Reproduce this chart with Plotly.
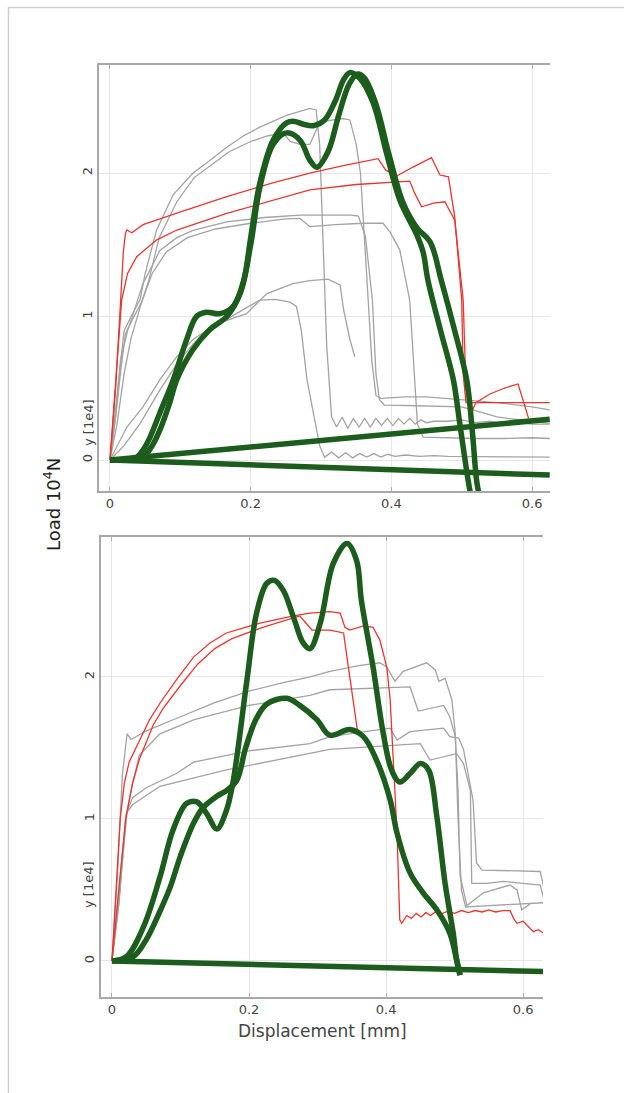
import plotly.graph_objects as go

# ---------------- TOP PANEL DATA (load in 1e4 N, displacement in mm) ----------------
top_red_a_x = [0, 0.008, 0.015, 0.019, 0.022, 0.024, 0.031, 0.047, 0.095, 0.166, 0.23, 0.284, 0.33, 0.381,
               0.392, 0.4075, 0.43, 0.457, 0.469, 0.481, 0.49, 0.4999, 0.502, 0.506, 0.55, 0.6, 0.625]
top_red_a_y = [0, 0.5, 1.1, 1.45, 1.58, 1.603, 1.584, 1.64, 1.72, 1.835, 1.93, 2.0, 2.05, 2.10,
               2.02, 1.979, 2.04, 2.107, 1.986, 1.974, 1.695, 1.115, 0.6, 0.40, 0.40, 0.40, 0.40]

top_red_b_x = [0, 0.005, 0.01, 0.0166, 0.025, 0.038, 0.066, 0.095, 0.166, 0.284, 0.35, 0.426, 0.433, 0.443,
               0.46, 0.476, 0.49, 0.502, 0.506, 0.512, 0.52, 0.54, 0.56, 0.58, 0.595]
top_red_b_y = [0, 0.35, 0.7, 1.115, 1.3, 1.417, 1.533, 1.603, 1.719, 1.882, 1.92, 1.944, 1.86, 1.765,
               1.79, 1.80, 1.672, 1.115, 0.5, 0.314, 0.40, 0.46, 0.50, 0.53, 0.29]

top_gray1_x = [0, 0.008, 0.015, 0.02, 0.03, 0.043, 0.05, 0.066, 0.09, 0.118, 0.14, 0.166, 0.19, 0.213, 0.25,
               0.284, 0.293, 0.298, 0.303, 0.308, 0.315, 0.322, 0.33, 0.338, 0.346, 0.354, 0.362, 0.37, 0.378,
               0.386, 0.394, 0.402, 0.41, 0.418, 0.426, 0.434, 0.442, 0.45, 0.46, 0.48, 0.5, 0.52, 0.54, 0.56,
               0.58, 0.6, 0.625]
top_gray1_y = [0, 0.35, 0.7, 0.9, 1.0, 1.12, 1.3, 1.6, 1.85, 2.0, 2.08, 2.18, 2.26, 2.32, 2.40,
               2.45, 2.44, 2.2, 1.5, 0.8, 0.3, 0.23, 0.30, 0.22, 0.29, 0.23, 0.29, 0.23, 0.29,
               0.24, 0.29, 0.24, 0.29, 0.25, 0.29, 0.25, 0.28, 0.26, 0.27, 0.27, 0.28, 0.26, 0.27, 0.25,
               0.26, 0.25, 0.25]

top_gray2_x = [0, 0.008, 0.016, 0.022, 0.032, 0.045, 0.055, 0.07, 0.095, 0.12, 0.145, 0.17, 0.2, 0.225, 0.246,
               0.256, 0.27, 0.284, 0.2985, 0.315, 0.331, 0.341, 0.35, 0.356, 0.36, 0.367, 0.372, 0.378, 0.385,
               0.42, 0.45, 0.5, 0.55, 0.6, 0.625]
top_gray2_y = [0, 0.3, 0.65, 0.88, 0.98, 1.1, 1.25, 1.55, 1.8, 1.97, 2.06, 2.15, 2.22, 2.26, 2.28,
               2.22, 2.2, 2.2, 2.357, 2.37, 2.38, 2.37, 2.2, 2.0, 1.70, 1.115, 0.7, 0.45, 0.43,
               0.44, 0.44, 0.42, 0.40, 0.37, 0.35]

top_gray3_x = [0, 0.008, 0.015, 0.025, 0.035, 0.047, 0.071, 0.095, 0.118, 0.166, 0.22, 0.27, 0.32, 0.343,
               0.353, 0.363, 0.373, 0.378, 0.383, 0.39, 0.42, 0.45, 0.5, 0.533, 0.55, 0.6, 0.625]
top_gray3_y = [0, 0.3, 0.7, 0.9, 1.05, 1.23, 1.46, 1.55, 1.6, 1.66, 1.69, 1.707, 1.707, 1.707,
               1.70, 1.56, 1.115, 0.6, 0.42, 0.383, 0.38, 0.375, 0.371, 0.325, 0.30, 0.27, 0.255]

top_gray4_x = [0, 0.01, 0.02, 0.03, 0.045, 0.06, 0.08, 0.11, 0.15, 0.2, 0.25, 0.27, 0.284, 0.32, 0.36, 0.388,
               0.398, 0.412, 0.426, 0.432, 0.437, 0.445, 0.48, 0.52, 0.56, 0.6, 0.625]
top_gray4_y = [0, 0.25, 0.6, 0.85, 1.1, 1.3, 1.45, 1.55, 1.61, 1.65, 1.68, 1.684, 1.626, 1.64, 1.65, 1.65,
               1.59, 1.463, 1.115, 0.6, 0.25, 0.16, 0.155, 0.15, 0.15, 0.155, 0.15]

top_gray5_x = [0, 0.02, 0.043, 0.07, 0.095, 0.12, 0.147, 0.194, 0.223, 0.26, 0.284, 0.31, 0.327, 0.332,
               0.341, 0.348]
top_gray5_y = [0, 0.1, 0.256, 0.48, 0.67, 0.82, 0.94, 1.02, 1.16, 1.23, 1.25, 1.26, 1.22, 1.05,
               0.84, 0.72]

top_gray6_x = [0, 0.01, 0.024, 0.047, 0.071, 0.095, 0.118, 0.142, 0.166, 0.19, 0.213, 0.235, 0.256, 0.265,
               0.272, 0.28, 0.29, 0.298, 0.305, 0.315, 0.325, 0.335, 0.345, 0.355, 0.365, 0.375, 0.385,
               0.395, 0.405, 0.42, 0.44, 0.46, 0.48, 0.5, 0.53, 0.56, 0.6, 0.625]
top_gray6_y = [0, 0.1, 0.23, 0.37, 0.56, 0.72, 0.84, 0.92, 0.98, 1.05, 1.115, 1.12, 1.10, 1.07,
               0.9, 0.56, 0.3, 0.1, 0.02, 0.055, 0.015, 0.05, 0.015, 0.045, 0.02, 0.045, 0.02,
               0.04, 0.025, 0.035, 0.025, 0.03, 0.025, 0.025, 0.02, 0.02, 0.02, 0.02]

top_green_a_x = [0, 0.02, 0.038, 0.047, 0.057, 0.071, 0.09, 0.109, 0.123, 0.137, 0.156, 0.175, 0.19, 0.2,
                 0.213, 0.232, 0.251, 0.262, 0.275, 0.289, 0.305, 0.32, 0.332, 0.341, 0.355, 0.374, 0.393,
                 0.412, 0.436, 0.445, 0.452, 0.47, 0.488, 0.497, 0.509, 0.513]
top_green_a_y = [0, 0.0, 0.02, 0.07, 0.16, 0.33, 0.56, 0.84, 1.0, 1.03, 1.02, 1.07, 1.25, 1.55,
                 1.93, 2.23, 2.35, 2.36, 2.34, 2.33, 2.37, 2.5, 2.65, 2.70, 2.66, 2.49, 2.14,
                 1.81, 1.57, 1.45, 1.25, 0.9, 0.56, 0.26, -0.14, -0.25]

top_green_b_x = [0, 0.03, 0.047, 0.06, 0.071, 0.085, 0.095, 0.118, 0.142, 0.166, 0.185, 0.2, 0.213, 0.232,
                 0.251, 0.27, 0.284, 0.294, 0.31, 0.325, 0.34, 0.352, 0.362, 0.378, 0.397, 0.416, 0.436,
                 0.455, 0.471, 0.49, 0.507, 0.515, 0.521, 0.525]
top_green_b_y = [0, 0.0, 0.02, 0.1, 0.21, 0.4, 0.56, 0.77, 0.91, 1.0, 1.16, 1.5, 1.9, 2.2,
                 2.28, 2.23, 2.09, 2.04, 2.15, 2.4, 2.62, 2.69, 2.66, 2.48, 2.12, 1.8, 1.62,
                 1.52, 1.25, 0.9, 0.56, 0.2, -0.14, -0.25]

top_line_up_x = [0, 0.625]
top_line_up_y = [0, 0.284]
top_line_down_x = [0, 0.625]
top_line_down_y = [0, -0.105]

# ---------------- BOTTOM PANEL DATA ----------------
bot_red_a_x = [0, 0.006, 0.012, 0.018, 0.025, 0.036, 0.055, 0.07, 0.094, 0.119, 0.143, 0.167, 0.216, 0.265,
               0.289, 0.318, 0.333, 0.34, 0.347, 0.367, 0.381, 0.391, 0.401, 0.406, 0.411, 0.416, 0.42,
               0.423, 0.43, 0.437, 0.444, 0.451, 0.458, 0.465, 0.472, 0.48, 0.49, 0.5, 0.51, 0.52, 0.53,
               0.54, 0.55, 0.56, 0.57, 0.581, 0.586, 0.591, 0.6, 0.608, 0.615, 0.622, 0.63]
bot_red_a_y = [0, 0.5, 1.0, 1.25, 1.4, 1.51, 1.70, 1.815, 1.98, 2.14, 2.24, 2.31, 2.38, 2.43,
               2.45, 2.46, 2.45, 2.35, 2.33, 2.36, 2.35, 2.26, 2.07, 1.84, 1.37, 0.9, 0.29,
               0.265, 0.32, 0.30, 0.335, 0.31, 0.34, 0.32, 0.345, 0.33, 0.35, 0.335, 0.355, 0.34, 0.355,
               0.345, 0.36, 0.345, 0.355, 0.354, 0.3, 0.265, 0.28, 0.24, 0.206, 0.22, 0.195]

bot_red_b_x = [0, 0.01, 0.02, 0.03, 0.04, 0.06, 0.075, 0.1, 0.125, 0.15, 0.175, 0.22, 0.274, 0.283, 0.292,
               0.318, 0.338, 0.345, 0.352, 0.358]
bot_red_b_y = [0, 0.5, 1.0, 1.25, 1.42, 1.66, 1.78, 1.94, 2.09, 2.2, 2.27, 2.35, 2.43, 2.38, 2.33,
               2.33, 2.31, 2.07, 1.84, 1.63]

bot_gray1_x = [0, 0.008, 0.015, 0.02, 0.022, 0.028, 0.035, 0.05, 0.1, 0.15, 0.2, 0.25, 0.289, 0.318, 0.36,
               0.391, 0.401, 0.413, 0.425, 0.459, 0.472, 0.477, 0.486, 0.496, 0.501, 0.505, 0.51, 0.516,
               0.55, 0.6, 0.63]
bot_gray1_y = [0, 0.6, 1.3, 1.55, 1.6, 1.56, 1.58, 1.62, 1.72, 1.82, 1.9, 1.96, 2.0, 2.04, 2.08,
               2.10, 2.07, 1.97, 2.04, 2.10, 2.05, 1.97, 1.99, 1.84, 1.6, 1.0, 0.5, 0.38,
               0.39, 0.40, 0.41]

bot_gray2_x = [0, 0.01, 0.02, 0.03, 0.04, 0.07, 0.12, 0.2, 0.289, 0.318, 0.435, 0.447, 0.484, 0.493, 0.501,
               0.505, 0.508, 0.518, 0.542, 0.581, 0.591, 0.598, 0.61]
bot_gray2_y = [0, 0.5, 1.0, 1.25, 1.45, 1.6, 1.7, 1.8, 1.87, 1.91, 1.93, 1.76, 1.80, 1.72, 1.58,
               1.2, 0.6, 0.39, 0.48, 0.535, 0.5, 0.36, 0.40]

bot_gray3_x = [0, 0.01, 0.015, 0.022, 0.03, 0.05, 0.094, 0.119, 0.2, 0.289, 0.318, 0.406, 0.416, 0.435,
               0.484, 0.493, 0.506, 0.513, 0.527, 0.532, 0.54, 0.625, 0.63]
bot_gray3_y = [0, 0.4, 0.7, 1.05, 1.15, 1.22, 1.32, 1.4, 1.48, 1.53, 1.58, 1.64, 1.556, 1.615,
               1.64, 1.58, 1.57, 1.49, 1.13, 0.69, 0.64, 0.63, 0.52]

bot_gray4_x = [0, 0.01, 0.018, 0.021, 0.03, 0.07, 0.167, 0.289, 0.318, 0.45, 0.464, 0.503, 0.513, 0.523,
               0.525, 0.547, 0.571, 0.625, 0.63]
bot_gray4_y = [0, 0.4, 0.85, 1.04, 1.1, 1.23, 1.345, 1.46, 1.49, 1.53, 1.415, 1.46, 1.39, 1.2,
               0.547, 0.547, 0.56, 0.535, 0.44]

bot_green_c_x = [0, 0.021, 0.046, 0.07, 0.089, 0.109, 0.124, 0.138, 0.153, 0.167, 0.177, 0.197, 0.211, 0.226,
                 0.237, 0.25, 0.265, 0.279, 0.289, 0.304, 0.323, 0.343, 0.357, 0.364, 0.381, 0.396, 0.408,
                 0.42, 0.435, 0.45, 0.462, 0.474, 0.486, 0.498, 0.503, 0.508]
bot_green_c_y = [0, 0.03, 0.24, 0.59, 0.92, 1.11, 1.12, 1.04, 0.93, 1.06, 1.27, 1.98, 2.45, 2.66,
                 2.68, 2.61, 2.42, 2.24, 2.2, 2.38, 2.80, 2.94, 2.82, 2.54, 2.07, 1.60, 1.345,
                 1.26, 1.32, 1.39, 1.345, 1.02, 0.55, 0.195, 0.007, -0.1]

bot_green_d_x = [0, 0.031, 0.05, 0.07, 0.085, 0.1, 0.119, 0.133, 0.153, 0.167, 0.182, 0.195, 0.21, 0.226,
                 0.255, 0.274, 0.299, 0.318, 0.347, 0.367, 0.386, 0.406, 0.416, 0.435, 0.454, 0.474, 0.493,
                 0.503, 0.508]
bot_green_d_y = [0, 0.03, 0.15, 0.35, 0.52, 0.74, 0.97, 1.08, 1.16, 1.2, 1.27, 1.5, 1.7, 1.81,
                 1.85, 1.8, 1.70, 1.59, 1.63, 1.58, 1.415, 1.134, 0.90, 0.62, 0.48, 0.36, 0.195,
                 0.007, -0.1]

bot_line_x = [0, 0.63]
bot_line_y = [0, -0.075]

x_tick_vals = [0, 0.2, 0.4, 0.6]
x_tick_text = ["0", "0.2", "0.4", "0.6"]
y_tick_vals = [0, 1, 2]
y_tick_text = ["0", "1", "2"]

# ---------------- STYLES ----------------
RED = "#e8352e"
GRAY = "#a3a3a3"
GREEN = "#1c5c1c"
FONT = "DejaVu Sans"

fig = go.Figure()


def thin(x, y, color, xa, ya, width=1.3):
    fig.add_trace(go.Scatter(x=x, y=y, mode="lines", xaxis=xa, yaxis=ya,
                             line=dict(color=color, width=width), hoverinfo="skip", showlegend=False))


def thick(x, y, xa, ya, spline=True):
    fig.add_trace(go.Scatter(x=x, y=y, mode="lines", xaxis=xa, yaxis=ya,
                             line=dict(color=GREEN, width=5.5, shape="spline" if spline else "linear",
                                       smoothing=1.0),
                             hoverinfo="skip", showlegend=False))


# top panel
for gx, gy in [(top_gray1_x, top_gray1_y), (top_gray2_x, top_gray2_y), (top_gray3_x, top_gray3_y),
               (top_gray4_x, top_gray4_y), (top_gray5_x, top_gray5_y), (top_gray6_x, top_gray6_y)]:
    thin(gx, gy, GRAY, "x", "y")
thin(top_red_a_x, top_red_a_y, RED, "x", "y")
thin(top_red_b_x, top_red_b_y, RED, "x", "y")
thick(top_line_up_x, top_line_up_y, "x", "y", spline=False)
thick(top_line_down_x, top_line_down_y, "x", "y", spline=False)
thick(top_green_a_x, top_green_a_y, "x", "y")
thick(top_green_b_x, top_green_b_y, "x", "y")

# bottom panel
for gx, gy in [(bot_gray1_x, bot_gray1_y), (bot_gray2_x, bot_gray2_y), (bot_gray3_x, bot_gray3_y),
               (bot_gray4_x, bot_gray4_y)]:
    thin(gx, gy, GRAY, "x2", "y2")
thin(bot_red_a_x, bot_red_a_y, RED, "x2", "y2")
thin(bot_red_b_x, bot_red_b_y, RED, "x2", "y2")
thick(bot_line_x, bot_line_y, "x2", "y2", spline=False)
thick(bot_green_c_x, bot_green_c_y, "x2", "y2")
thick(bot_green_d_x, bot_green_d_y, "x2", "y2")

# ---------------- LAYOUT ----------------
W, H = 624, 1093
ML, MR, MT, MB = 99, 74, 65, 96
PW, PH = W - ML - MR, H - MT - MB


def px(xp):
    return (xp - ML) / PW


def py(yp):
    return (H - MB - yp) / PH


xcommon = dict(tickvals=x_tick_vals, ticktext=x_tick_text, showline=True, linecolor="#a8a8a8", linewidth=1.6,
               mirror="ticks", ticks="inside", ticklen=4, tickcolor="#b0b0b0", showgrid=True,
               gridcolor="#e6e6e6", gridwidth=1, zeroline=False,
               tickfont=dict(family=FONT, size=13, color="#444"))
ycommon = dict(tickvals=y_tick_vals, ticktext=y_tick_text, showline=True, linecolor="#a8a8a8", linewidth=1.6,
               mirror=False, ticks="", showgrid=True, gridcolor="#e6e6e6", gridwidth=1, zeroline=False,
               tickangle=-90, tickfont=dict(family=FONT, size=13, color="#444"))

fig.update_layout(
    width=W, height=H, autosize=False,
    margin=dict(l=ML, r=MR, t=MT, b=MB),
    paper_bgcolor="white", plot_bgcolor="white",
    showlegend=False,
    xaxis=dict(domain=[px(99), px(550)], anchor="y", range=[-0.0156, 0.6254], **xcommon),
    yaxis=dict(domain=[py(491), py(65)], anchor="x", range=[-0.216, 2.753], **ycommon),
    xaxis2=dict(domain=[px(101), px(543)], anchor="y2", range=[-0.016, 0.629], **xcommon),
    yaxis2=dict(domain=[py(997), py(537)], anchor="x2", range=[-0.254, 2.986], **ycommon),
)

annotations = [
    dict(text="y [1e4]", x=px(88), y=py(423), textangle=-90),
    dict(text="y [1e4]", x=px(88), y=py(885), textangle=-90),
]
for a in annotations:
    fig.add_annotation(xref="paper", yref="paper", showarrow=False, x=a["x"], y=a["y"], text=a["text"],
                       textangle=a["textangle"], font=dict(family=FONT, size=13, color="#444"),
                       xanchor="center", yanchor="middle")

fig.add_annotation(xref="paper", yref="paper", showarrow=False, x=px(52), y=py(505),
                   text="Load 10<sup>4</sup>N", textangle=-90,
                   font=dict(family=FONT, size=18, color="#222"), xanchor="center", yanchor="middle")
fig.add_annotation(xref="paper", yref="paper", showarrow=False, x=px(322), y=py(1031),
                   text="Displacement [mm]", font=dict(family=FONT, size=17, color="#444"),
                   xanchor="center", yanchor="middle")

# light frame around the figure (left and top edges)
fig.add_shape(type="line", xref="paper", yref="paper", x0=px(8.5), x1=px(8.5), y0=py(7), y1=py(1093),
              line=dict(color="#cfcfcf", width=1.5))
fig.add_shape(type="line", xref="paper", yref="paper", x0=px(8), x1=px(624), y0=py(7.5), y1=py(7.5),
              line=dict(color="#cfcfcf", width=1.5))

fig.write_html("out.html")
